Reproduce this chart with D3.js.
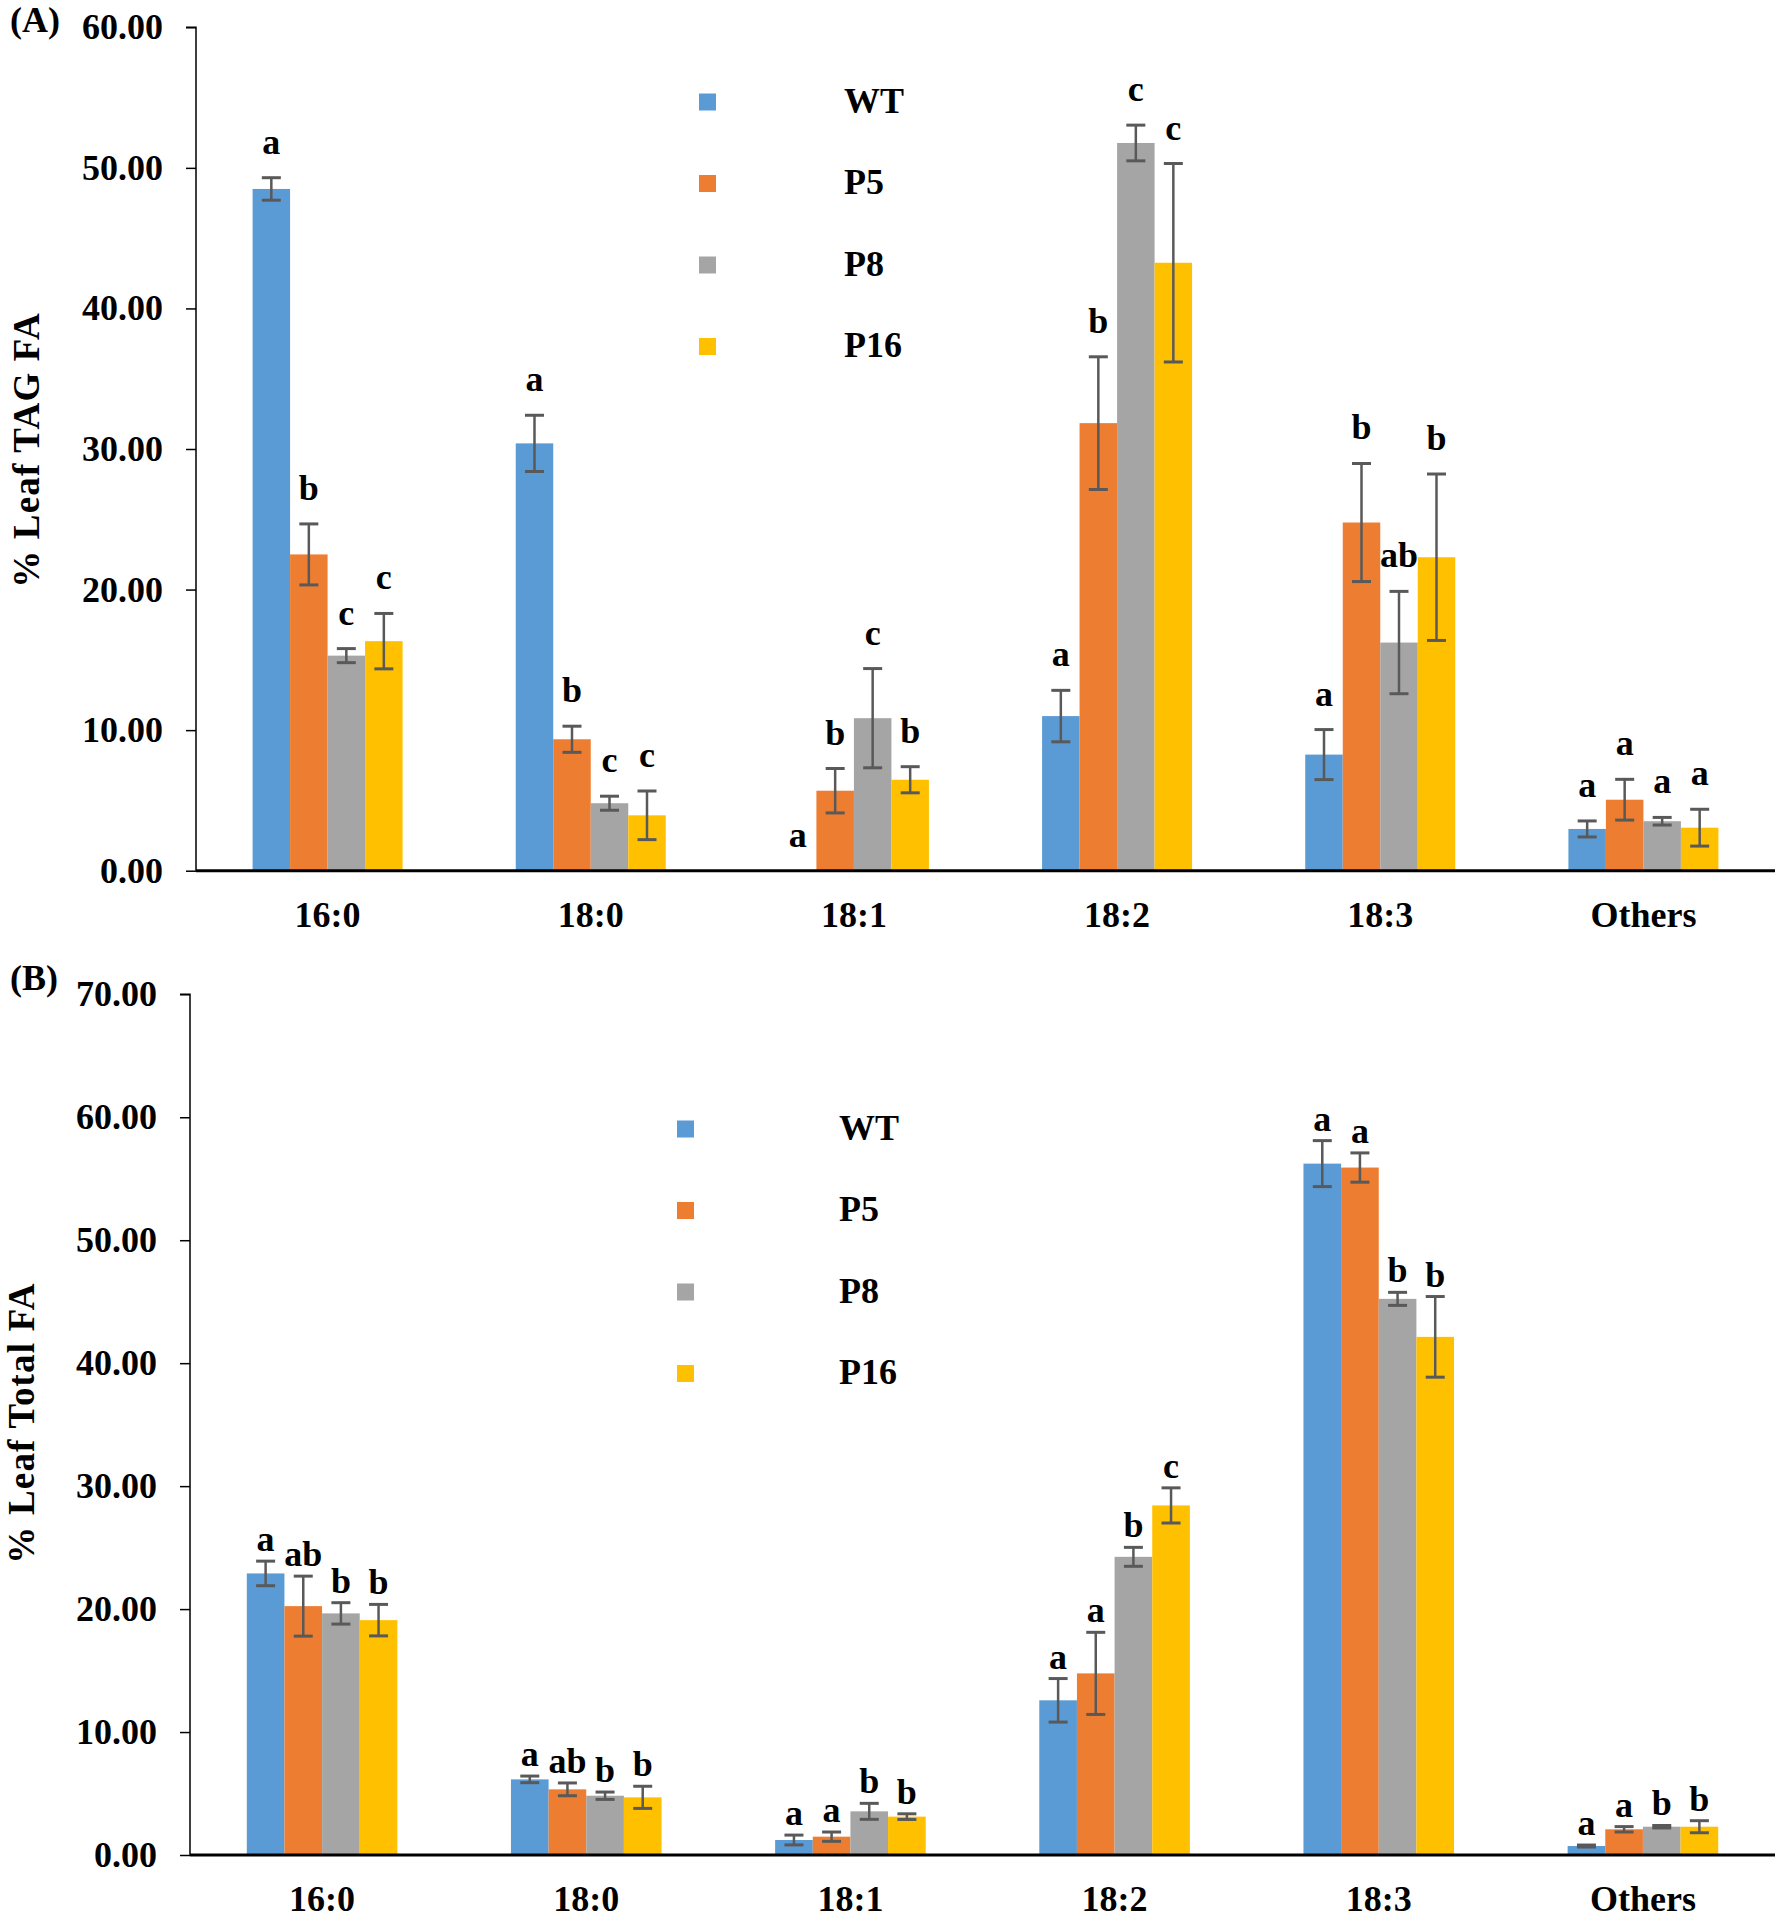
<!DOCTYPE html>
<html>
<head>
<meta charset="utf-8">
<script src="https://cdn.jsdelivr.net/npm/d3@7"></script>
<style>
  html, body { margin: 0; padding: 0; background: #ffffff; }
  svg { display: block; }
  text { font-family: "Liberation Serif", "Times New Roman", serif; font-weight: bold; fill: #000; }
</style>
</head>
<body>
<svg id="chart" width="1776" height="1919"></svg>
<script>
// ---------------- DATA ----------------
const categories = ["16:0", "18:0", "18:1", "18:2", "18:3", "Others"];
const seriesNames = ["WT", "P5", "P8", "P16"];

// Panel A: % Leaf TAG FA
const tagWT  = [48.5, 30.4, 0.0, 11.0, 8.26, 2.97];
const tagP5  = [22.5, 9.35, 5.69, 31.84, 24.77, 5.05];
const tagP8  = [15.3, 4.8, 10.85, 51.77, 16.23, 3.52];
const tagP16 = [16.33, 3.94, 6.47, 43.25, 22.3, 3.06];
const tagErrWT  = [0.8, 2.0, 0.0, 1.83, 1.78, 0.57];
const tagErrP5  = [2.17, 0.93, 1.58, 4.72, 4.2, 1.45];
const tagErrP8  = [0.5, 0.5, 3.53, 1.27, 3.64, 0.27];
const tagErrP16 = [1.97, 1.73, 0.93, 7.06, 5.92, 1.31];
const tagLetWT  = ["a", "a", "a", "a", "a", "a"];
const tagLetP5  = ["b", "b", "b", "b", "b", "a"];
const tagLetP8  = ["c", "c", "c", "c", "ab", "a"];
const tagLetP16 = ["c", "c", "b", "c", "b", "a"];
const tagTicks = [0, 10, 20, 30, 40, 50, 60];

// Panel B: % Leaf Total FA
const totWT  = [22.9, 6.15, 1.22, 12.58, 56.23, 0.73];
const totP5  = [20.24, 5.34, 1.49, 14.77, 55.91, 2.09];
const totP8  = [19.65, 4.82, 3.55, 24.25, 45.23, 2.3];
const totP16 = [19.1, 4.69, 3.12, 28.43, 42.14, 2.3];
const totErrWT  = [1.0, 0.27, 0.4, 1.77, 1.87, 0.08];
const totErrP5  = [2.44, 0.52, 0.38, 3.34, 1.19, 0.22];
const totErrP8  = [0.87, 0.3, 0.65, 0.77, 0.53, 0.1];
const totErrP16 = [1.28, 0.9, 0.23, 1.43, 3.28, 0.49];
const totLetWT  = ["a", "a", "a", "a", "a", "a"];
const totLetP5  = ["ab", "ab", "a", "a", "a", "a"];
const totLetP8  = ["b", "b", "b", "b", "b", "b"];
const totLetP16 = ["b", "b", "b", "c", "b", "b"];
const totTicks = [0, 10, 20, 30, 40, 50, 60, 70];

// ---------------- STYLE ----------------
const colors = ["#5B9BD5", "#ED7D31", "#A5A5A5", "#FFC000"];
const errColor = "#595959";

const svg = d3.select("#chart");
svg.append("rect").attr("width", 1776).attr("height", 1919).attr("fill", "#fff");

function drawPanel(cfg) {
  const g = svg.append("g");
  const values = cfg.values, errs = cfg.errs, letters = cfg.letters;

  const x0 = d3.scaleBand().domain(categories)
    .range([cfg.left, cfg.right]).paddingInner(0.43).paddingOuter(0.215);
  const x1 = d3.scaleBand().domain(seriesNames).range([0, x0.bandwidth()]).padding(0);
  const y = d3.scaleLinear().domain([0, cfg.max]).range([cfg.bottom, cfg.top]);

  // bars
  seriesNames.forEach((s, si) => {
    g.append("g").selectAll("rect").data(categories).join("rect")
      .attr("x", c => x0(c) + x1(s))
      .attr("width", x1.bandwidth())
      .attr("y", (c, i) => y(values[si][i]))
      .attr("height", (c, i) => y(0) - y(values[si][i]))
      .attr("fill", colors[si]);
  });

  // error bars
  seriesNames.forEach((s, si) => {
    categories.forEach((c, i) => {
      const e = errs[si][i];
      if (!(e > 0)) return;
      const cx = x0(c) + x1(s) + x1.bandwidth() / 2;
      const v = values[si][i];
      const yt = y(v + e), yb = y(Math.max(0, v - e));
      g.append("line").attr("x1", cx).attr("x2", cx).attr("y1", yt).attr("y2", yb)
        .attr("stroke", errColor).attr("stroke-width", 2.5);
      [yt, yb].forEach(yy => {
        g.append("line").attr("x1", cx - 9.5).attr("x2", cx + 9.5).attr("y1", yy).attr("y2", yy)
          .attr("stroke", errColor).attr("stroke-width", 3);
      });
    });
  });

  // significance letters
  seriesNames.forEach((s, si) => {
    categories.forEach((c, i) => {
      const cx = x0(c) + x1(s) + x1.bandwidth() / 2;
      const top = y(values[si][i] + (errs[si][i] || 0));
      g.append("text").attr("x", cx).attr("y", top - cfg.letterGap)
        .attr("text-anchor", "middle").attr("font-size", 36)
        .text(letters[si][i]);
    });
  });

  // y axis
  const yAxis = d3.axisLeft(y).tickValues(cfg.ticks).tickFormat(d3.format(".2f"))
    .tickSize(10).tickPadding(23);
  const ya = g.append("g").attr("transform", `translate(${cfg.left},0)`).call(yAxis);
  ya.select(".domain").attr("stroke", "#000").attr("stroke-width", 1.5).attr("d", `M-10,${cfg.top}H0V${cfg.bottom}`);
  ya.selectAll(".tick line").attr("stroke", "#000").attr("stroke-width", 1.5);
  ya.selectAll(".tick text").attr("font-size", 36).attr("font-family", '"Liberation Serif", "Times New Roman", serif')
    .attr("font-weight", "bold").attr("fill", "#000");

  // x axis
  const xAxis = d3.axisBottom(x0).tickSize(0).tickPadding(0);
  const xa = g.append("g").attr("transform", `translate(0,${cfg.bottom})`).call(xAxis);
  xa.select(".domain").attr("stroke", "#000").attr("stroke-width", 3)
    .attr("d", `M${cfg.left},0H${cfg.right}`);
  xa.selectAll(".tick text").attr("font-size", 36).attr("font-family", '"Liberation Serif", "Times New Roman", serif')
    .attr("font-weight", "bold").attr("fill", "#000").attr("dy", null).attr("y", 56);

  // y title
  g.append("text")
    .attr("transform", `translate(${cfg.titleX},${cfg.titleY}) rotate(-90)`)
    .attr("text-anchor", "middle").attr("dy", "0.35em").attr("font-size", 37)
    .attr("letter-spacing", 1.2)
    .text(cfg.title);

  // panel label
  g.append("text").attr("x", 10).attr("y", cfg.panelY).attr("font-size", 36).text(cfg.panel);

  // legend
  seriesNames.forEach((s, si) => {
    const cy = cfg.legY + si * 81.5;
    g.append("rect").attr("x", cfg.legX).attr("y", cy - 8.5).attr("width", 17).attr("height", 17)
      .attr("fill", colors[si]);
    g.append("text").attr("x", cfg.legTextX).attr("y", cy).attr("dy", "0.3em")
      .attr("font-size", 36).text(s);
  });
}

drawPanel({
  values: [tagWT, tagP5, tagP8, tagP16],
  errs: [tagErrWT, tagErrP5, tagErrP8, tagErrP16],
  letters: [tagLetWT, tagLetP5, tagLetP8, tagLetP16],
  ticks: tagTicks, max: 60,
  left: 196, right: 1775, top: 27.3, bottom: 870.7,
  letterGap: 24,
  title: "% Leaf TAG FA", titleX: 26, titleY: 450,
  panel: "(A)", panelY: 32,
  legX: 699, legTextX: 844, legY: 102
});

drawPanel({
  values: [totWT, totP5, totP8, totP16],
  errs: [totErrWT, totErrP5, totErrP8, totErrP16],
  letters: [totLetWT, totLetP5, totLetP8, totLetP16],
  ticks: totTicks, max: 70,
  left: 190, right: 1775, top: 994.3, bottom: 1855,
  letterGap: 10,
  title: "% Leaf Total FA", titleX: 21, titleY: 1423,
  panel: "(B)", panelY: 990,
  legX: 677, legTextX: 839, legY: 1129
});
</script>
</body>
</html>
